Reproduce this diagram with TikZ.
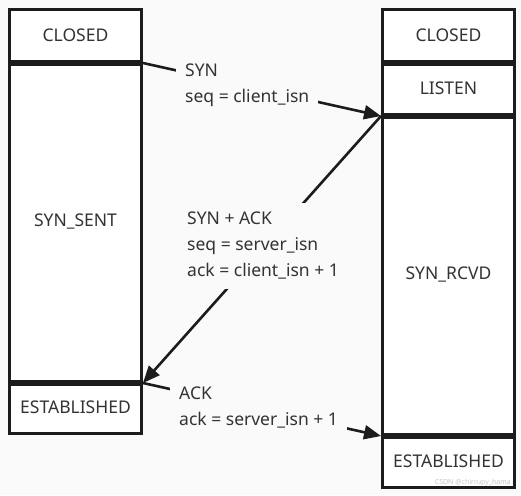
\documentclass[tikz,border=0pt]{standalone}
\usepackage{fontspec}
\setmainfont{Noto Sans}
\usetikzlibrary{arrows.meta}
\definecolor{bg}{HTML}{FAFAFA}
\definecolor{ink}{HTML}{1C1C1C}
\definecolor{txt}{HTML}{333333}
\tikzset{
  statebox/.style={draw=ink, line width=3pt, fill=white, rectangle, inner sep=0pt,
    minimum width=132pt, anchor=north west, text=txt, font=\fontsize{17.5}{20}\selectfont},
  divider/.style={draw=ink, line width=5.5pt},
  msg/.style={draw=ink, line width=2.6pt, -{Triangle[length=17pt,width=14pt]}},
  msglabel/.style={fill=bg, inner sep=9pt, anchor=north west, align=left, text=txt,
    font=\fontsize{17.5}{26}\selectfont}
}
\begin{document}
\begin{tikzpicture}[x=1pt,y=-1pt]
\fill[bg] (0,0) rectangle (521,495);
\useasboundingbox (0,0) rectangle (521,495);
% left column
\node[statebox, minimum height=52pt] (lclosed) at (8,8) {CLOSED};
\node[statebox, minimum height=320pt] (lsent) at (8,60) {SYN\_SENT};
\node[statebox, minimum height=52pt] (lest) at (8,380) {ESTABLISHED};
% right column
\node[statebox, minimum height=52pt] (rclosed) at (381,8) {CLOSED};
\node[statebox, minimum height=53pt] (rlisten) at (381,60) {LISTEN};
\node[statebox, minimum height=320pt] (rrcvd) at (381,113) {SYN\_RCVD};
\node[statebox, minimum height=53pt] (rest) at (381,433) {ESTABLISHED};
% dividers
\draw[divider] (lclosed.south west) -- (lclosed.south east);
\draw[divider] (lsent.south west) -- (lsent.south east);
\draw[divider] (rclosed.south west) -- (rclosed.south east);
\draw[divider] (rlisten.south west) -- (rlisten.south east);
\draw[divider] (rrcvd.south west) -- (rrcvd.south east);
% messages
\draw[msg] (lclosed.south east) -- (rlisten.south west);
\draw[msg] (rlisten.south west) -- (lsent.south east);
\draw[msg] (lsent.south east) -- (rrcvd.south west);
% labels
\node[msglabel] (synlbl) at (176,55) {SYN\\seq = client\_isn};
\node[msglabel] (synacklbl) at (178,203) {SYN + ACK\\seq = server\_isn\\ack = client\_isn + 1};
\node[msglabel] (acklbl) at (170,378) {ACK\\ack = server\_isn + 1};
% watermark
\node[anchor=south east, inner sep=1pt, text=gray!45, font=\fontsize{7}{8}\selectfont] (wm) at (512,487) {CSDN @chirrupy\_hama};
\end{tikzpicture}
\end{document}
